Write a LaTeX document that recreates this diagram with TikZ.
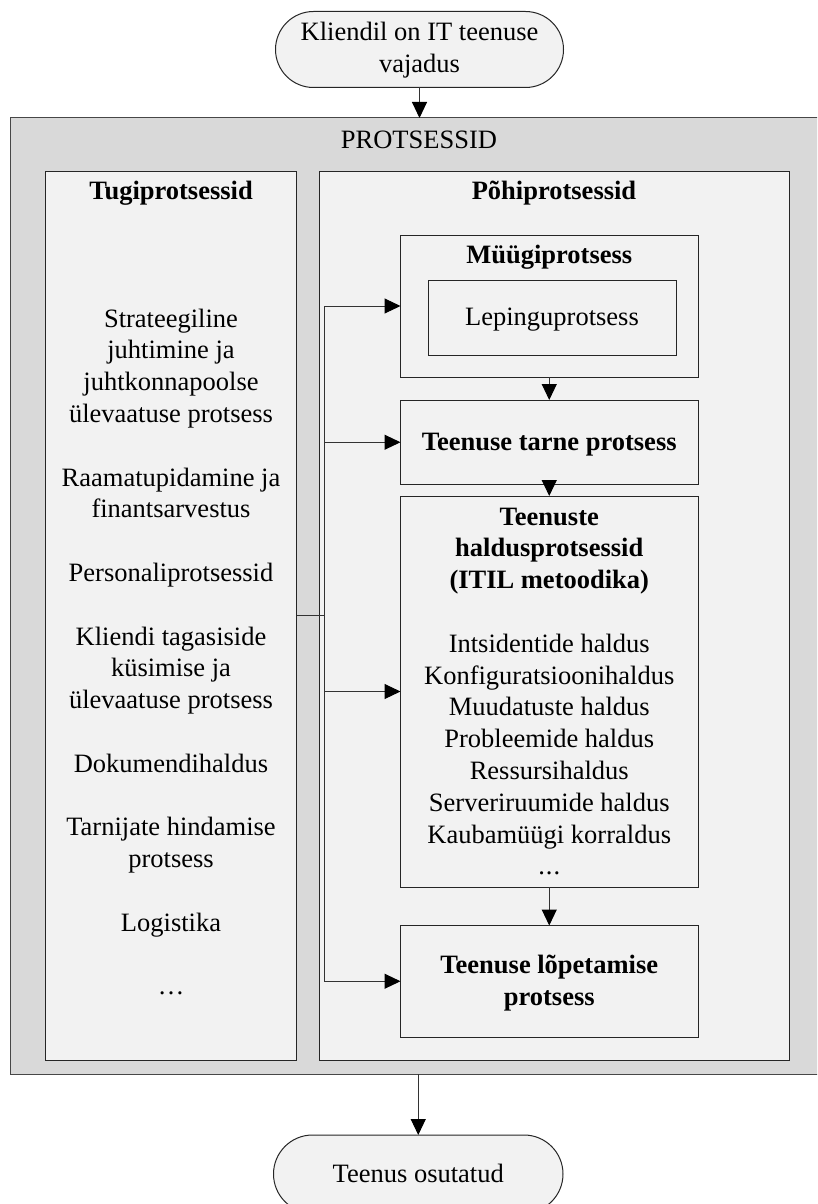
\documentclass[tikz,border=0pt]{standalone}
\usepackage{fontspec}
\setmainfont{Liberation Serif}
\usetikzlibrary{arrows.meta}
\definecolor{outerfill}{HTML}{D9D9D9}
\definecolor{innerfill}{HTML}{F2F2F2}
\definecolor{edge}{HTML}{262626}
\definecolor{wire}{HTML}{333333}
\begin{document}
\begin{tikzpicture}[x=1pt,y=-1pt,
  box/.style={draw=edge, line width=1pt, fill=innerfill, inner sep=0pt, outer sep=0pt},
  term/.style={box, rounded corners=38pt, minimum width=288pt, minimum height=76pt},
  txt/.style={anchor=base, inner sep=0pt, font=\fontsize{26.5}{31.8}\selectfont, text=black},
  btxt/.style={anchor=base, inner sep=0pt, font=\fontsize{26.5}{31.8}\selectfont\bfseries, text=black},
  arr/.style={draw=wire, line width=1pt, -{Triangle[length=16pt,width=15pt,color=black]}},
]
\useasboundingbox (0,0) rectangle (817,1204);
\clip (0,0) rectangle (817,1204);
\fill[white] (0,0) rectangle (817,1204);

% start and end terminals
\node[term] (start) at (419.5,49.5) {};
\node[txt] (start-1) at (419.5,40.5) {Kliendil on IT teenuse};
\node[txt] (start-2) at (419.5,72.3) {vajadus};
\node[term, minimum width=289.5pt, minimum height=78pt, rounded corners=39pt] (finish) at (418.25,1174) {};
\node[txt] (finish-1) at (418.25,1182.5) {Teenus osutatud};

% process container
\node[box, draw=edge!85, fill=outerfill, minimum width=817.5pt, minimum height=956pt] (outer) at (419.25,596) {};
\node[txt] (outer-t) at (419,148) {PROTSESSID};

% support processes
\node[box, minimum width=251pt, minimum height=889pt] (tugi) at (171,615.5) {};
\node[btxt] (tugi-t) at (171,199.8) {Tugiprotsessid};
\foreach \k/\t in {4/Strateegiline, 5/juhtimine ja, 6/juhtkonnapoolse, 7/ülevaatuse protsess,
  9/Raamatupidamine ja, 10/finantsarvestus, 12/Personaliprotsessid,
  14/Kliendi tagasiside, 15/küsimise ja, 16/ülevaatuse protsess,
  18/Dokumendihaldus, 20/Tarnijate hindamise, 21/protsess, 23/Logistika}
  \node[txt] (tg-\k) at (171,199.8+31.8*\k) {\t};
\node[txt] (tg-25) at (171,994.8) {…};

% core processes
\node[box, minimum width=470pt, minimum height=889pt] (pohi) at (554,615.5) {};
\node[btxt] (pohi-t) at (554,199.8) {Põhiprotsessid};

\node[box, minimum width=297.5pt, minimum height=142pt] (mg) at (549.25,306) {};
\node[btxt] (mg-t) at (549.25,263) {Müügiprotsess};
\node[box, minimum width=248pt, minimum height=75pt] (lep) at (552,317.5) {};
\node[txt] (lep-t) at (552,325.5) {Lepinguprotsess};

\node[box, minimum width=297.5pt, minimum height=84.5pt] (tarne) at (549.25,442.25) {};
\node[btxt] (tarne-t) at (549.25,450.5) {Teenuse tarne protsess};

\node[box, minimum width=297.5pt, minimum height=391pt] (hald) at (549.25,691.5) {};
\foreach \k/\t in {0/Teenuste, 1/haldusprotsessid, 2/(ITIL metoodika)}
  \node[btxt] (hb-\k) at (549.25,525+31.8*\k) {\t};
\foreach \k/\t in {4/Intsidentide haldus, 5/Konfiguratsioonihaldus, 6/Muudatuste haldus,
  7/Probleemide haldus, 8/Ressursihaldus, 9/Serveriruumide haldus,
  10/Kaubamüügi korraldus}
  \node[txt] (hl-\k) at (549.25,525+31.8*\k) {\t};
\node[txt] (hl-11) at (549.25,874.8) {.\kern1pt.\kern1pt.};

\node[box, minimum width=297.5pt, minimum height=111.5pt] (lop) at (549.25,981.25) {};
\node[btxt] (lop-1) at (549.25,973.5) {Teenuse lõpetamise};
\node[btxt] (lop-2) at (549.25,1005.3) {protsess};

% connectors
\coordinate (jx) at (324,615.5);
\draw[arr] (start.south) -- (start.south |- outer.north);
\draw[arr] (outer.south -| finish.north) -- (finish.north);
\draw[arr] (mg.south) -- (tarne.north);
\draw[arr] (tarne.south) -- (hald.north);
\draw[arr] (hald.south) -- (lop.north);
\foreach \n in {mg, tarne, hald, lop}
  \draw[arr] (tugi.east) -- (jx) |- (\n.west);
\end{tikzpicture}
\end{document}
